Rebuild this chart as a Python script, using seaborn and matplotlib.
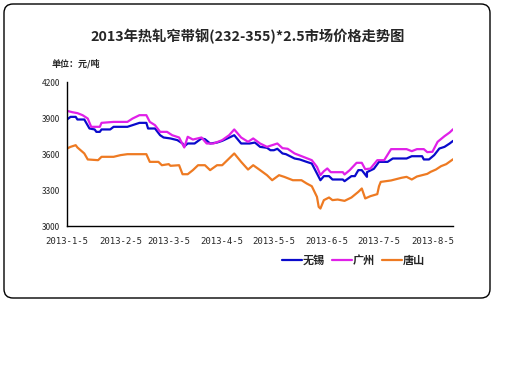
import pandas as pd
import matplotlib.pyplot as plt
import matplotlib.patches as mpatches
from matplotlib.transforms import IdentityTransform
import seaborn as sns

# jours depuis le 2013-1-5 et prix (元/吨)
wuxi_days = [0, 2, 5, 6, 10, 13, 16, 17, 19, 20, 25, 27, 35, 38, 42, 46, 47, 51, 54, 56, 60, 64,
             67, 68, 70, 74, 78, 80, 83, 87, 90, 93, 97, 101, 106, 109, 112, 116, 118, 120, 122,
             125, 127, 132, 135, 139, 142, 145, 147, 149, 152, 154, 160, 161, 165, 167, 169, 171,
             174, 174, 178, 181, 186, 189, 197, 200, 206, 207, 210, 213, 216, 219, 222, 224]
wuxi_price = [3889, 3911, 3911, 3889, 3889, 3814, 3806, 3786, 3786, 3806, 3806, 3828, 3828, 3842,
              3861, 3861, 3814, 3814, 3758, 3739, 3731, 3717, 3689, 3665, 3689, 3689, 3731, 3725,
              3689, 3697, 3711, 3731, 3758, 3689, 3689, 3697, 3661, 3653, 3633, 3633, 3645, 3606,
              3600, 3564, 3556, 3536, 3522, 3439, 3383, 3417, 3417, 3389, 3389, 3375, 3417, 3417,
              3467, 3467, 3411, 3450, 3478, 3536, 3536, 3564, 3564, 3583, 3583, 3556, 3556, 3592,
              3647, 3661, 3689, 3711]

gz_days = [0, 3, 6, 9, 12, 14, 19, 20, 27, 35, 38, 42, 46, 48, 51, 54, 58, 61, 65, 68, 70, 73,
           78, 81, 85, 90, 94, 97, 101, 105, 108, 112, 116, 122, 125, 128, 132, 137, 142, 145,
           147, 149, 151, 153, 160, 161, 164, 168, 171, 173, 176, 180, 184, 188, 197, 200, 203,
           207, 209, 212, 215, 219, 222, 224]
gz_price = [3961, 3950, 3942, 3925, 3897, 3828, 3828, 3861, 3869, 3869, 3897, 3925, 3925, 3869,
            3842, 3786, 3786, 3758, 3739, 3656, 3745, 3722, 3739, 3689, 3689, 3717, 3758, 3806,
            3739, 3703, 3731, 3689, 3661, 3689, 3650, 3645, 3606, 3578, 3550, 3494, 3425, 3458,
            3481, 3450, 3450, 3431, 3467, 3528, 3528, 3475, 3480, 3550, 3550, 3642, 3642, 3625,
            3642, 3642, 3617, 3620, 3703, 3750, 3781, 3808]

ts_days = [0, 2, 5, 6, 10, 12, 18, 20, 27, 31, 35, 46, 48, 53, 55, 59, 60, 65, 67, 70, 73, 76,
           80, 83, 87, 90, 93, 97, 101, 105, 108, 112, 116, 119, 123, 126, 131, 136, 139, 142,
           145, 146, 147, 149, 152, 154, 157, 161, 165, 169, 171, 173, 176, 180, 181, 182, 188,
           194, 197, 200, 203, 209, 211, 214, 217, 220, 224]
ts_price = [3647, 3661, 3675, 3656, 3606, 3556, 3550, 3578, 3578, 3592, 3600, 3600, 3536, 3536,
            3508, 3517, 3503, 3508, 3433, 3433, 3467, 3508, 3508, 3467, 3508, 3508, 3550, 3606,
            3536, 3472, 3508, 3467, 3425, 3383, 3425, 3411, 3383, 3383, 3356, 3333, 3244, 3161,
            3147, 3217, 3239, 3217, 3222, 3211, 3239, 3286, 3314, 3231, 3250, 3267, 3333, 3369,
            3381, 3403, 3411, 3389, 3414, 3436, 3453, 3472, 3500, 3517, 3558]

cities = ["无锡", "广州", "唐山"]
colors = ["#0A0ACC", "#E020E8", "#EE7A22"]
tick_months = [1, 2, 3, 4, 5, 6, 7, 8]

start = pd.Timestamp("2013-01-05")
frames = []
for city, days, price in zip(cities, [wuxi_days, gz_days, ts_days], [wuxi_price, gz_price, ts_price]):
    frames.append(pd.DataFrame({"date": start + pd.to_timedelta(days, unit="D"),
                                "price": price, "city": city}))
df = pd.concat(frames, ignore_index=True)

sns.set_style("white")
plt.rcParams['font.family'] = ['Noto Sans CJK SC', 'DejaVu Sans']

fig = plt.figure(figsize=(5.12, 3.84), dpi=100)
ax = fig.add_axes([0.131, 0.411, 0.754, 0.375])

sns.lineplot(data=df, x="date", y="price", hue="city", hue_order=cities,
             palette=colors, linewidth=1.6, ax=ax, estimator=None, sort=False)

ax.set_xlim(start, start + pd.Timedelta(days=224))
ax.set_ylim(3000, 4200)
ax.set_yticks([3000, 3300, 3600, 3900, 4200])
ax.set_yticklabels(["3000", "3300", "3600", "3900", "4200"], fontsize=6)
ticks = [pd.Timestamp(2013, m, 5) for m in tick_months]
ax.set_xticks(ticks)
ax.set_xticklabels([f"2013-{m}-5" for m in tick_months], fontsize=6.5,
                   family="DejaVu Sans Mono")
ax.tick_params(axis="x", direction="in", length=3, pad=8)
ax.tick_params(axis="y", direction="out", length=3, pad=2)
ax.set_xlabel("")
ax.set_ylabel("")
for s in ["top", "right"]:
    ax.spines[s].set_visible(False)
for s in ["left", "bottom"]:
    ax.spines[s].set_color("black")
    ax.spines[s].set_linewidth(1)

ax.legend(loc="upper left", bbox_to_anchor=(0.53, -0.12), ncol=3, frameon=False,
          handlelength=1.8, handletextpad=0.1, columnspacing=0.6,
          prop={"weight": "bold", "size": 8})

fig.text(0.484, 0.905, "2013年热轧窄带钢(232-355)*2.5市场价格走势图",
         ha="center", va="center", fontsize=10.3, fontweight="bold")
fig.text(0.1, 0.833, "单位：元/吨", ha="left", va="center", fontsize=6.5, fontweight="bold")

# cadre arrondi autour du graphique
box = mpatches.FancyBboxPatch((4, 86), 486, 294, boxstyle="round,pad=0,rounding_size=9",
                              transform=IdentityTransform(), fill=False,
                              edgecolor="black", linewidth=1)
fig.add_artist(box)

fig.savefig("out.png", dpi=100)
